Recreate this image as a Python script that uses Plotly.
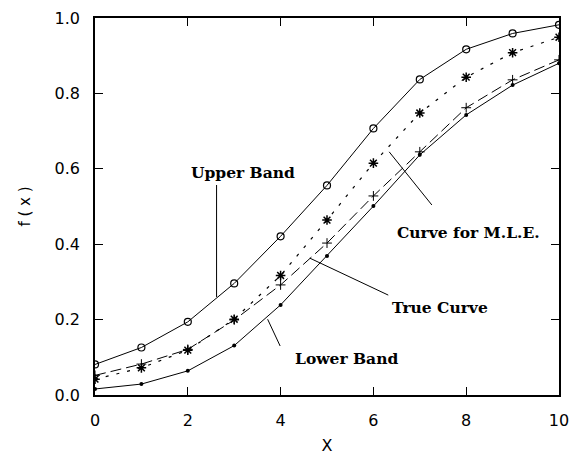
import plotly.graph_objects as go

x_vals = [0, 1, 2, 3, 4, 5, 6, 7, 8, 9, 10]
upper_band = [0.081, 0.126, 0.194, 0.296, 0.421, 0.556, 0.707, 0.837, 0.917, 0.959, 0.982]
mle_curve = [0.042, 0.072, 0.119, 0.201, 0.317, 0.464, 0.615, 0.748, 0.843, 0.908, 0.949]
true_curve = [0.052, 0.082, 0.121, 0.199, 0.292, 0.403, 0.528, 0.645, 0.762, 0.836, 0.889]
lower_band = [0.016, 0.029, 0.064, 0.131, 0.239, 0.369, 0.501, 0.637, 0.743, 0.822, 0.880]

x_ticks = [0, 2, 4, 6, 8, 10]
y_ticks = [0.0, 0.2, 0.4, 0.6, 0.8, 1.0]
y_tick_text = ["0.0", "0.2", "0.4", "0.6", "0.8", "1.0"]

# annotation labels (text, x, y) and pointer lines (x0, y0, x1, y1) in data units
labels = ["Upper Band", "Curve for M.L.E.", "True Curve", "Lower Band"]
label_x = [3.2, 8.05, 7.43, 5.43]
label_y = [0.591, 0.432, 0.231, 0.098]
pointer_x0 = [2.62, 6.34, 4.63, 3.72]
pointer_y0 = [0.557, 0.645, 0.363, 0.201]
pointer_x1 = [2.62, 7.26, 6.32, 3.99]
pointer_y1 = [0.260, 0.504, 0.265, 0.130]

fig = go.Figure()

fig.add_trace(go.Scatter(
    x=x_vals, y=upper_band, mode="lines+markers", name="Upper Band",
    line=dict(color="black", width=1),
    marker=dict(symbol="circle-open", size=7, color="black", line=dict(width=1.2)),
))
fig.add_trace(go.Scatter(
    x=x_vals, y=mle_curve, mode="lines+markers", name="Curve for M.L.E.",
    line=dict(color="black", width=1.2, dash="3px,8px"),
    marker=dict(symbol="asterisk-open", size=8, color="black", line=dict(width=1.5, color="black")),
))
fig.add_trace(go.Scatter(
    x=x_vals, y=true_curve, mode="lines+markers", name="True Curve",
    line=dict(color="black", width=1, dash="11px,5px"),
    marker=dict(symbol="cross-thin-open", size=7, color="black", line=dict(width=1, color="black")),
))
fig.add_trace(go.Scatter(
    x=x_vals, y=lower_band, mode="lines+markers", name="Lower Band",
    line=dict(color="black", width=1),
    marker=dict(symbol="circle", size=4, color="black"),
))

for i in range(len(labels)):
    fig.add_shape(type="line", xref="x", yref="y",
                  x0=pointer_x0[i], y0=pointer_y0[i], x1=pointer_x1[i], y1=pointer_y1[i],
                  line=dict(color="black", width=1))
    fig.add_annotation(x=label_x[i], y=label_y[i], xref="x", yref="y",
                       text="<b>" + labels[i] + "</b>", showarrow=False,
                       font=dict(family="DejaVu Serif", size=15.5, color="black"))

tick_font = dict(family="DejaVu Sans", size=16, color="black")

fig.update_xaxes(
    range=[0, 10], tickvals=x_ticks, ticks="inside", ticklen=8, tickwidth=1,
    tickcolor="black", showline=True, linecolor="black", linewidth=1.5, mirror="ticks",
    showgrid=False, zeroline=False, automargin=False,
    tickfont=tick_font,
    ticklabelstandoff=10,
    title=dict(text="X", font=dict(family="DejaVu Sans", size=16, color="black"), standoff=26),
)
fig.update_yaxes(
    range=[0, 1], tickvals=y_ticks, ticktext=y_tick_text, ticks="inside", ticklen=8, tickwidth=1,
    tickcolor="black", showline=True, linecolor="black", linewidth=1.5, mirror="ticks",
    showgrid=False, zeroline=False, automargin=False,
    tickfont=tick_font,
    ticklabelstandoff=10,
    title=dict(text="f ( x )", font=dict(family="DejaVu Sans", size=15, color="black"), standoff=20),
)

fig.update_layout(
    width=570, height=455,
    margin=dict(l=95, r=11, t=18, b=60),
    paper_bgcolor="white", plot_bgcolor="white",
    showlegend=False,
)

fig.write_html("out.html")
